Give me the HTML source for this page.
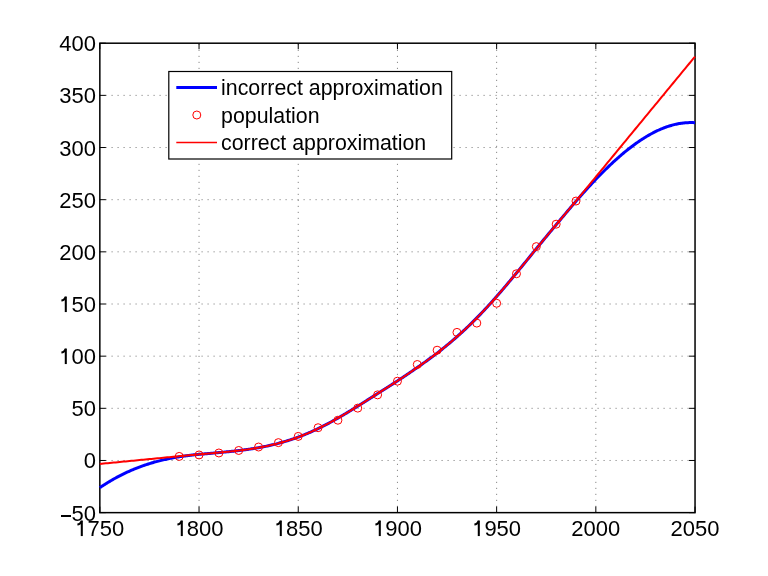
<!DOCTYPE html>
<html><head><meta charset="utf-8"><style>
html,body{margin:0;padding:0;background:#fff;}
#c{position:relative;-webkit-font-smoothing:antialiased;width:768px;height:576px;overflow:hidden;background:#fff;font-family:"Liberation Sans",sans-serif;color:#000;}
svg{position:absolute;left:0;top:0;}
.xl{position:absolute;width:80px;margin-left:-40px;text-align:center;font-size:22px;line-height:22px;transform:scaleY(1.04);transform-origin:50% 10.5px;}
.yl{position:absolute;right:672px;font-size:22px;line-height:22px;white-space:nowrap;transform:scaleY(1.04);transform-origin:50% 10.3px;}
.one{display:inline-block;position:relative;width:12.23px;height:16px;}
.one svg{position:absolute;left:0;top:auto;bottom:0;}
.mn{position:absolute;width:10.6px;height:1.5px;background:#000;}
#t{position:absolute;left:0;top:0;width:768px;height:576px;will-change:transform;}
.lg{position:absolute;left:221.1px;font-size:21.33px;line-height:22px;white-space:nowrap;}
</style></head><body><div id="c">
<svg width="768" height="576" viewBox="0 0 768 576">
<g stroke="#8a8a8a" stroke-width="1" stroke-dasharray="1.2 4.8" fill="none"><line x1="199.04" y1="512.64" x2="199.04" y2="43.20" stroke-dashoffset="0.36"/><line x1="298.24" y1="512.64" x2="298.24" y2="43.20" stroke-dashoffset="0.36"/><line x1="397.44" y1="512.64" x2="397.44" y2="43.20" stroke-dashoffset="0.36"/><line x1="496.64" y1="512.64" x2="496.64" y2="43.20" stroke-dashoffset="0.36"/><line x1="595.84" y1="512.64" x2="595.84" y2="43.20" stroke-dashoffset="0.36"/><line x1="99.84" y1="460.48" x2="695.04" y2="460.48" stroke-dashoffset="0.34"/><line x1="99.84" y1="408.32" x2="695.04" y2="408.32" stroke-dashoffset="0.34"/><line x1="99.84" y1="356.16" x2="695.04" y2="356.16" stroke-dashoffset="0.34"/><line x1="99.84" y1="304.00" x2="695.04" y2="304.00" stroke-dashoffset="0.34"/><line x1="99.84" y1="251.84" x2="695.04" y2="251.84" stroke-dashoffset="0.34"/><line x1="99.84" y1="199.68" x2="695.04" y2="199.68" stroke-dashoffset="0.34"/><line x1="99.84" y1="147.52" x2="695.04" y2="147.52" stroke-dashoffset="0.34"/><line x1="99.84" y1="95.36" x2="695.04" y2="95.36" stroke-dashoffset="0.34"/></g>
<path d="M99.84,512.64V506.64M99.84,43.20V49.20M199.04,512.64V506.64M199.04,43.20V49.20M298.24,512.64V506.64M298.24,43.20V49.20M397.44,512.64V506.64M397.44,43.20V49.20M496.64,512.64V506.64M496.64,43.20V49.20M595.84,512.64V506.64M595.84,43.20V49.20M695.04,512.64V506.64M695.04,43.20V49.20M99.84,512.64H105.84M695.04,512.64H689.04M99.84,460.48H105.84M695.04,460.48H689.04M99.84,408.32H105.84M695.04,408.32H689.04M99.84,356.16H105.84M695.04,356.16H689.04M99.84,304.00H105.84M695.04,304.00H689.04M99.84,251.84H105.84M695.04,251.84H689.04M99.84,199.68H105.84M695.04,199.68H689.04M99.84,147.52H105.84M695.04,147.52H689.04M99.84,95.36H105.84M695.04,95.36H689.04M99.84,43.20H105.84M695.04,43.20H689.04" stroke="#000" stroke-width="1" fill="none"/>
<rect x="99.84" y="43.20" width="595.20" height="469.44" fill="none" stroke="#000" stroke-width="1.5"/>
<path d="M99.84,487.71 L100.83,487.03 L101.82,486.37 L102.82,485.71 L103.81,485.06 L104.80,484.42 L105.79,483.79 L106.78,483.17 L107.78,482.55 L108.77,481.95 L109.76,481.35 L110.75,480.76 L111.74,480.18 L112.74,479.61 L113.73,479.04 L114.72,478.49 L115.71,477.94 L116.70,477.40 L117.70,476.86 L118.69,476.34 L119.68,475.82 L120.67,475.31 L121.66,474.81 L122.66,474.32 L123.65,473.83 L124.64,473.35 L125.63,472.88 L126.62,472.42 L127.62,471.96 L128.61,471.51 L129.60,471.07 L130.59,470.64 L131.58,470.21 L132.58,469.79 L133.57,469.37 L134.56,468.97 L135.55,468.57 L136.54,468.17 L137.54,467.79 L138.53,467.41 L139.52,467.03 L140.51,466.67 L141.50,466.31 L142.50,465.95 L143.49,465.60 L144.48,465.26 L145.47,464.93 L146.46,464.60 L147.46,464.28 L148.45,463.96 L149.44,463.65 L150.43,463.34 L151.42,463.04 L152.42,462.75 L153.41,462.46 L154.40,462.18 L155.39,461.90 L156.38,461.63 L157.38,461.37 L158.37,461.11 L159.36,460.85 L160.35,460.60 L161.34,460.36 L162.34,460.12 L163.33,459.89 L164.32,459.66 L165.31,459.44 L166.30,459.22 L167.30,459.00 L168.29,458.79 L169.28,458.59 L170.27,458.39 L171.26,458.19 L172.26,458.00 L173.25,457.82 L174.24,457.64 L175.23,457.46 L176.22,457.29 L177.22,457.12 L178.21,456.95 L179.20,456.79 L180.19,456.64 L181.18,456.49 L182.18,456.34 L183.17,456.19 L184.16,456.05 L185.15,455.92 L186.14,455.78 L187.14,455.66 L188.13,455.53 L189.12,455.41 L190.11,455.29 L191.10,455.17 L192.10,455.06 L193.09,454.95 L194.08,454.85 L195.07,454.75 L196.06,454.65 L197.06,454.55 L198.05,454.46 L199.04,454.37 L200.03,454.28 L201.02,454.19 L202.02,454.10 L203.01,454.01 L204.00,453.93 L204.99,453.84 L205.98,453.75 L206.98,453.66 L207.97,453.57 L208.96,453.48 L209.95,453.40 L210.94,453.31 L211.94,453.22 L212.93,453.13 L213.92,453.04 L214.91,452.95 L215.90,452.86 L216.90,452.77 L217.89,452.68 L218.88,452.59 L219.87,452.50 L220.86,452.41 L221.86,452.32 L222.85,452.23 L223.84,452.13 L224.83,452.04 L225.82,451.94 L226.82,451.85 L227.81,451.75 L228.80,451.65 L229.79,451.55 L230.78,451.45 L231.78,451.35 L232.77,451.24 L233.76,451.14 L234.75,451.03 L235.74,450.92 L236.74,450.80 L237.73,450.69 L238.72,450.57 L239.71,450.45 L240.70,450.33 L241.70,450.21 L242.69,450.08 L243.68,449.96 L244.67,449.82 L245.66,449.69 L246.66,449.56 L247.65,449.42 L248.64,449.28 L249.63,449.13 L250.62,448.98 L251.62,448.83 L252.61,448.68 L253.60,448.52 L254.59,448.36 L255.58,448.20 L256.58,448.03 L257.57,447.86 L258.56,447.69 L259.55,447.51 L260.54,447.33 L261.54,447.14 L262.53,446.95 L263.52,446.76 L264.51,446.56 L265.50,446.36 L266.50,446.15 L267.49,445.94 L268.48,445.72 L269.47,445.51 L270.46,445.28 L271.46,445.05 L272.45,444.82 L273.44,444.59 L274.43,444.35 L275.42,444.10 L276.42,443.85 L277.41,443.60 L278.40,443.34 L279.39,443.07 L280.38,442.80 L281.38,442.53 L282.37,442.25 L283.36,441.97 L284.35,441.68 L285.34,441.38 L286.34,441.09 L287.33,440.78 L288.32,440.47 L289.31,440.16 L290.30,439.84 L291.30,439.51 L292.29,439.18 L293.28,438.85 L294.27,438.51 L295.26,438.16 L296.26,437.81 L297.25,437.45 L298.24,437.09 L299.23,436.72 L300.22,436.34 L301.22,435.96 L302.21,435.58 L303.20,435.18 L304.19,434.79 L305.18,434.38 L306.18,433.97 L307.17,433.56 L308.16,433.14 L309.15,432.71 L310.14,432.28 L311.14,431.85 L312.13,431.40 L313.12,430.96 L314.11,430.50 L315.10,430.04 L316.10,429.58 L317.09,429.11 L318.08,428.64 L319.07,428.15 L320.06,427.67 L321.06,427.18 L322.05,426.68 L323.04,426.18 L324.03,425.67 L325.02,425.16 L326.02,424.65 L327.01,424.13 L328.00,423.60 L328.99,423.07 L329.98,422.54 L330.98,422.00 L331.97,421.46 L332.96,420.91 L333.95,420.36 L334.94,419.80 L335.94,419.24 L336.93,418.68 L337.92,418.11 L338.91,417.54 L339.90,416.97 L340.90,416.39 L341.89,415.81 L342.88,415.22 L343.87,414.63 L344.86,414.04 L345.86,413.45 L346.85,412.85 L347.84,412.25 L348.83,411.65 L349.82,411.05 L350.82,410.44 L351.81,409.83 L352.80,409.22 L353.79,408.61 L354.78,408.00 L355.78,407.38 L356.77,406.76 L357.76,406.14 L358.75,405.52 L359.74,404.90 L360.74,404.28 L361.73,403.65 L362.72,403.03 L363.71,402.40 L364.70,401.78 L365.70,401.15 L366.69,400.52 L367.68,399.89 L368.67,399.26 L369.66,398.63 L370.66,398.01 L371.65,397.38 L372.64,396.75 L373.63,396.12 L374.62,395.49 L375.62,394.86 L376.61,394.23 L377.60,393.60 L378.59,392.97 L379.58,392.34 L380.58,391.71 L381.57,391.09 L382.56,390.46 L383.55,389.83 L384.54,389.20 L385.54,388.57 L386.53,387.94 L387.52,387.31 L388.51,386.68 L389.50,386.04 L390.50,385.41 L391.49,384.77 L392.48,384.14 L393.47,383.50 L394.46,382.86 L395.46,382.21 L396.45,381.57 L397.44,380.92 L398.43,380.27 L399.42,379.62 L400.42,378.96 L401.41,378.31 L402.40,377.65 L403.39,376.99 L404.38,376.32 L405.38,375.66 L406.37,374.99 L407.36,374.32 L408.35,373.65 L409.34,372.97 L410.34,372.30 L411.33,371.62 L412.32,370.94 L413.31,370.25 L414.30,369.57 L415.30,368.88 L416.29,368.19 L417.28,367.50 L418.27,366.81 L419.26,366.12 L420.26,365.42 L421.25,364.72 L422.24,364.02 L423.23,363.32 L424.22,362.61 L425.22,361.90 L426.21,361.19 L427.20,360.47 L428.19,359.75 L429.18,359.03 L430.18,358.30 L431.17,357.57 L432.16,356.84 L433.15,356.10 L434.14,355.35 L435.14,354.60 L436.13,353.85 L437.12,353.09 L438.11,352.33 L439.10,351.56 L440.10,350.78 L441.09,350.00 L442.08,349.22 L443.07,348.42 L444.06,347.63 L445.06,346.83 L446.05,346.02 L447.04,345.21 L448.03,344.39 L449.02,343.56 L450.02,342.73 L451.01,341.90 L452.00,341.05 L452.99,340.20 L453.98,339.35 L454.98,338.49 L455.97,337.62 L456.96,336.75 L457.95,335.87 L458.94,334.99 L459.94,334.09 L460.93,333.20 L461.92,332.29 L462.91,331.38 L463.90,330.46 L464.90,329.54 L465.89,328.61 L466.88,327.67 L467.87,326.73 L468.86,325.78 L469.86,324.82 L470.85,323.85 L471.84,322.88 L472.83,321.91 L473.82,320.92 L474.82,319.93 L475.81,318.93 L476.80,317.93 L477.79,316.92 L478.78,315.90 L479.78,314.87 L480.77,313.84 L481.76,312.80 L482.75,311.75 L483.74,310.70 L484.74,309.64 L485.73,308.58 L486.72,307.51 L487.71,306.43 L488.70,305.35 L489.70,304.26 L490.69,303.16 L491.68,302.06 L492.67,300.95 L493.66,299.84 L494.66,298.73 L495.65,297.60 L496.64,296.47 L497.63,295.34 L498.62,294.20 L499.62,293.06 L500.61,291.91 L501.60,290.76 L502.59,289.60 L503.58,288.44 L504.58,287.28 L505.57,286.11 L506.56,284.93 L507.55,283.75 L508.54,282.57 L509.54,281.39 L510.53,280.20 L511.52,279.01 L512.51,277.81 L513.50,276.61 L514.50,275.41 L515.49,274.21 L516.48,273.00 L517.47,271.79 L518.46,270.58 L519.46,269.37 L520.45,268.16 L521.44,266.94 L522.43,265.73 L523.42,264.52 L524.42,263.30 L525.41,262.09 L526.40,260.87 L527.39,259.66 L528.38,258.45 L529.38,257.23 L530.37,256.02 L531.36,254.80 L532.35,253.59 L533.34,252.38 L534.34,251.16 L535.33,249.95 L536.32,248.74 L537.31,247.53 L538.30,246.32 L539.30,245.11 L540.29,243.90 L541.28,242.70 L542.27,241.49 L543.26,240.29 L544.26,239.08 L545.25,237.88 L546.24,236.68 L547.23,235.48 L548.22,234.28 L549.22,233.08 L550.21,231.89 L551.20,230.69 L552.19,229.50 L553.18,228.30 L554.18,227.11 L555.17,225.92 L556.16,224.74 L557.15,223.55 L558.14,222.36 L559.14,221.18 L560.13,220.00 L561.12,218.81 L562.11,217.63 L563.10,216.45 L564.10,215.27 L565.09,214.09 L566.08,212.90 L567.07,211.72 L568.06,210.54 L569.06,209.37 L570.05,208.20 L571.04,207.03 L572.03,205.86 L573.02,204.70 L574.02,203.55 L575.01,202.40 L576.00,201.25 L576.99,200.11 L577.98,198.97 L578.98,197.83 L579.97,196.70 L580.96,195.58 L581.95,194.46 L582.94,193.34 L583.94,192.23 L584.93,191.13 L585.92,190.03 L586.91,188.93 L587.90,187.84 L588.90,186.76 L589.89,185.68 L590.88,184.61 L591.87,183.54 L592.86,182.48 L593.86,181.43 L594.85,180.38 L595.84,179.33 L596.83,178.30 L597.82,177.27 L598.82,176.24 L599.81,175.23 L600.80,174.21 L601.79,173.21 L602.78,172.21 L603.78,171.22 L604.77,170.24 L605.76,169.26 L606.75,168.30 L607.74,167.33 L608.74,166.38 L609.73,165.43 L610.72,164.49 L611.71,163.56 L612.70,162.64 L613.70,161.72 L614.69,160.82 L615.68,159.92 L616.67,159.03 L617.66,158.14 L618.66,157.27 L619.65,156.40 L620.64,155.54 L621.63,154.70 L622.62,153.86 L623.62,153.02 L624.61,152.20 L625.60,151.39 L626.59,150.58 L627.58,149.79 L628.58,149.00 L629.57,148.23 L630.56,147.46 L631.55,146.70 L632.54,145.96 L633.54,145.22 L634.53,144.49 L635.52,143.77 L636.51,143.07 L637.50,142.37 L638.50,141.68 L639.49,141.01 L640.48,140.34 L641.47,139.69 L642.46,139.04 L643.46,138.41 L644.45,137.78 L645.44,137.17 L646.43,136.57 L647.42,135.98 L648.42,135.40 L649.41,134.84 L650.40,134.28 L651.39,133.74 L652.38,133.21 L653.38,132.68 L654.37,132.18 L655.36,131.68 L656.35,131.19 L657.34,130.72 L658.34,130.26 L659.33,129.81 L660.32,129.38 L661.31,128.96 L662.30,128.55 L663.30,128.15 L664.29,127.76 L665.28,127.39 L666.27,127.03 L667.26,126.69 L668.26,126.35 L669.25,126.03 L670.24,125.73 L671.23,125.44 L672.22,125.16 L673.22,124.89 L674.21,124.64 L675.20,124.40 L676.19,124.18 L677.18,123.97 L678.18,123.78 L679.17,123.60 L680.16,123.43 L681.15,123.28 L682.14,123.14 L683.14,123.02 L684.13,122.91 L685.12,122.82 L686.11,122.74 L687.10,122.68 L688.10,122.63 L689.09,122.59 L690.08,122.58 L691.07,122.58 L692.06,122.59 L693.06,122.62 L694.05,122.66 L695.04,122.72" stroke="#0000ff" stroke-width="3" fill="none" stroke-linejoin="round"/>
<g stroke="#ff0000" stroke-width="1.0" fill="none"><circle cx="179.20" cy="456.41" r="4.0"/><circle cx="199.04" cy="454.95" r="4.0"/><circle cx="218.88" cy="452.97" r="4.0"/><circle cx="238.72" cy="450.47" r="4.0"/><circle cx="258.56" cy="447.02" r="4.0"/><circle cx="278.40" cy="442.64" r="4.0"/><circle cx="298.24" cy="436.38" r="4.0"/><circle cx="318.08" cy="427.72" r="4.0"/><circle cx="337.92" cy="420.21" r="4.0"/><circle cx="357.76" cy="408.11" r="4.0"/><circle cx="377.60" cy="394.86" r="4.0"/><circle cx="397.44" cy="381.20" r="4.0"/><circle cx="417.28" cy="364.51" r="4.0"/><circle cx="437.12" cy="350.21" r="4.0"/><circle cx="456.96" cy="332.38" r="4.0"/><circle cx="476.80" cy="323.09" r="4.0"/><circle cx="496.64" cy="303.27" r="4.0"/><circle cx="516.48" cy="273.75" r="4.0"/><circle cx="536.32" cy="246.62" r="4.0"/><circle cx="556.16" cy="224.20" r="4.0"/><circle cx="576.00" cy="201.04" r="4.0"/></g>
<path d="M99.84,463.92 L101.82,463.73 L103.81,463.54 L105.79,463.34 L107.78,463.15 L109.76,462.96 L111.74,462.76 L113.73,462.57 L115.71,462.38 L117.70,462.19 L119.68,461.99 L121.66,461.80 L123.65,461.61 L125.63,461.41 L127.62,461.22 L129.60,461.03 L131.58,460.83 L133.57,460.64 L135.55,460.45 L137.54,460.26 L139.52,460.06 L141.50,459.87 L143.49,459.68 L145.47,459.48 L147.46,459.29 L149.44,459.10 L151.42,458.90 L153.41,458.71 L155.39,458.52 L157.38,458.33 L159.36,458.13 L161.34,457.94 L163.33,457.75 L165.31,457.55 L167.30,457.36 L169.28,457.17 L171.26,456.97 L173.25,456.78 L175.23,456.59 L177.22,456.40 L179.20,456.20 L180.19,456.11 L181.18,456.01 L182.18,455.92 L183.17,455.82 L184.16,455.73 L185.15,455.63 L186.14,455.54 L187.14,455.45 L188.13,455.36 L189.12,455.27 L190.11,455.17 L191.10,455.08 L192.10,454.99 L193.09,454.90 L194.08,454.81 L195.07,454.72 L196.06,454.63 L197.06,454.55 L198.05,454.46 L199.04,454.37 L200.03,454.28 L201.02,454.19 L202.02,454.10 L203.01,454.01 L204.00,453.93 L204.99,453.84 L205.98,453.75 L206.98,453.66 L207.97,453.57 L208.96,453.48 L209.95,453.40 L210.94,453.31 L211.94,453.22 L212.93,453.13 L213.92,453.04 L214.91,452.95 L215.90,452.86 L216.90,452.77 L217.89,452.68 L218.88,452.59 L219.87,452.50 L220.86,452.41 L221.86,452.32 L222.85,452.23 L223.84,452.13 L224.83,452.04 L225.82,451.94 L226.82,451.85 L227.81,451.75 L228.80,451.65 L229.79,451.55 L230.78,451.45 L231.78,451.35 L232.77,451.24 L233.76,451.14 L234.75,451.03 L235.74,450.92 L236.74,450.80 L237.73,450.69 L238.72,450.57 L239.71,450.45 L240.70,450.33 L241.70,450.21 L242.69,450.08 L243.68,449.96 L244.67,449.82 L245.66,449.69 L246.66,449.56 L247.65,449.42 L248.64,449.28 L249.63,449.13 L250.62,448.98 L251.62,448.83 L252.61,448.68 L253.60,448.52 L254.59,448.36 L255.58,448.20 L256.58,448.03 L257.57,447.86 L258.56,447.69 L259.55,447.51 L260.54,447.33 L261.54,447.14 L262.53,446.95 L263.52,446.76 L264.51,446.56 L265.50,446.36 L266.50,446.15 L267.49,445.94 L268.48,445.72 L269.47,445.51 L270.46,445.28 L271.46,445.05 L272.45,444.82 L273.44,444.59 L274.43,444.35 L275.42,444.10 L276.42,443.85 L277.41,443.60 L278.40,443.34 L279.39,443.07 L280.38,442.80 L281.38,442.53 L282.37,442.25 L283.36,441.97 L284.35,441.68 L285.34,441.38 L286.34,441.09 L287.33,440.78 L288.32,440.47 L289.31,440.16 L290.30,439.84 L291.30,439.51 L292.29,439.18 L293.28,438.85 L294.27,438.51 L295.26,438.16 L296.26,437.81 L297.25,437.45 L298.24,437.09 L299.23,436.72 L300.22,436.34 L301.22,435.96 L302.21,435.58 L303.20,435.18 L304.19,434.79 L305.18,434.38 L306.18,433.97 L307.17,433.56 L308.16,433.14 L309.15,432.71 L310.14,432.28 L311.14,431.85 L312.13,431.40 L313.12,430.96 L314.11,430.50 L315.10,430.04 L316.10,429.58 L317.09,429.11 L318.08,428.64 L319.07,428.15 L320.06,427.67 L321.06,427.18 L322.05,426.68 L323.04,426.18 L324.03,425.67 L325.02,425.16 L326.02,424.65 L327.01,424.13 L328.00,423.60 L328.99,423.07 L329.98,422.54 L330.98,422.00 L331.97,421.46 L332.96,420.91 L333.95,420.36 L334.94,419.80 L335.94,419.24 L336.93,418.68 L337.92,418.11 L338.91,417.54 L339.90,416.97 L340.90,416.39 L341.89,415.81 L342.88,415.22 L343.87,414.63 L344.86,414.04 L345.86,413.45 L346.85,412.85 L347.84,412.25 L348.83,411.65 L349.82,411.05 L350.82,410.44 L351.81,409.83 L352.80,409.22 L353.79,408.61 L354.78,408.00 L355.78,407.38 L356.77,406.76 L357.76,406.14 L358.75,405.52 L359.74,404.90 L360.74,404.28 L361.73,403.65 L362.72,403.03 L363.71,402.40 L364.70,401.78 L365.70,401.15 L366.69,400.52 L367.68,399.89 L368.67,399.26 L369.66,398.63 L370.66,398.01 L371.65,397.38 L372.64,396.75 L373.63,396.12 L374.62,395.49 L375.62,394.86 L376.61,394.23 L377.60,393.60 L378.59,392.97 L379.58,392.34 L380.58,391.71 L381.57,391.09 L382.56,390.46 L383.55,389.83 L384.54,389.20 L385.54,388.57 L386.53,387.94 L387.52,387.31 L388.51,386.68 L389.50,386.04 L390.50,385.41 L391.49,384.77 L392.48,384.14 L393.47,383.50 L394.46,382.86 L395.46,382.21 L396.45,381.57 L397.44,380.92 L398.43,380.27 L399.42,379.62 L400.42,378.96 L401.41,378.31 L402.40,377.65 L403.39,376.99 L404.38,376.32 L405.38,375.66 L406.37,374.99 L407.36,374.32 L408.35,373.65 L409.34,372.97 L410.34,372.30 L411.33,371.62 L412.32,370.94 L413.31,370.25 L414.30,369.57 L415.30,368.88 L416.29,368.19 L417.28,367.50 L418.27,366.81 L419.26,366.12 L420.26,365.42 L421.25,364.72 L422.24,364.02 L423.23,363.32 L424.22,362.61 L425.22,361.90 L426.21,361.19 L427.20,360.47 L428.19,359.75 L429.18,359.03 L430.18,358.30 L431.17,357.57 L432.16,356.84 L433.15,356.10 L434.14,355.35 L435.14,354.60 L436.13,353.85 L437.12,353.09 L438.11,352.33 L439.10,351.56 L440.10,350.78 L441.09,350.00 L442.08,349.22 L443.07,348.42 L444.06,347.63 L445.06,346.83 L446.05,346.02 L447.04,345.21 L448.03,344.39 L449.02,343.56 L450.02,342.73 L451.01,341.90 L452.00,341.05 L452.99,340.20 L453.98,339.35 L454.98,338.49 L455.97,337.62 L456.96,336.75 L457.95,335.87 L458.94,334.99 L459.94,334.09 L460.93,333.20 L461.92,332.29 L462.91,331.38 L463.90,330.46 L464.90,329.54 L465.89,328.61 L466.88,327.67 L467.87,326.73 L468.86,325.78 L469.86,324.82 L470.85,323.85 L471.84,322.88 L472.83,321.91 L473.82,320.92 L474.82,319.93 L475.81,318.93 L476.80,317.93 L477.79,316.92 L478.78,315.90 L479.78,314.87 L480.77,313.84 L481.76,312.80 L482.75,311.75 L483.74,310.70 L484.74,309.64 L485.73,308.58 L486.72,307.51 L487.71,306.43 L488.70,305.35 L489.70,304.26 L490.69,303.16 L491.68,302.06 L492.67,300.95 L493.66,299.84 L494.66,298.73 L495.65,297.60 L496.64,296.47 L497.63,295.34 L498.62,294.20 L499.62,293.06 L500.61,291.91 L501.60,290.76 L502.59,289.60 L503.58,288.44 L504.58,287.28 L505.57,286.11 L506.56,284.93 L507.55,283.75 L508.54,282.57 L509.54,281.39 L510.53,280.20 L511.52,279.01 L512.51,277.81 L513.50,276.61 L514.50,275.41 L515.49,274.21 L516.48,273.00 L517.47,271.79 L518.46,270.58 L519.46,269.37 L520.45,268.16 L521.44,266.94 L522.43,265.73 L523.42,264.52 L524.42,263.30 L525.41,262.09 L526.40,260.87 L527.39,259.66 L528.38,258.45 L529.38,257.23 L530.37,256.02 L531.36,254.80 L532.35,253.59 L533.34,252.38 L534.34,251.16 L535.33,249.95 L536.32,248.74 L537.31,247.53 L538.30,246.32 L539.30,245.11 L540.29,243.90 L541.28,242.70 L542.27,241.49 L543.26,240.29 L544.26,239.08 L545.25,237.88 L546.24,236.68 L547.23,235.48 L548.22,234.28 L549.22,233.08 L550.21,231.89 L551.20,230.69 L552.19,229.50 L553.18,228.30 L554.18,227.11 L555.17,225.92 L556.16,224.74 L557.15,223.55 L558.14,222.36 L559.14,221.18 L560.13,220.00 L561.12,218.81 L562.11,217.63 L563.10,216.45 L564.10,215.27 L565.09,214.09 L566.08,212.90 L567.07,211.72 L568.06,210.53 L569.06,209.35 L570.05,208.16 L571.04,206.97 L572.03,205.78 L573.02,204.58 L574.02,203.39 L575.01,202.19 L576.00,200.98 L577.98,198.58 L579.97,196.17 L581.95,193.76 L583.94,191.35 L585.92,188.95 L587.90,186.54 L589.89,184.13 L591.87,181.72 L593.86,179.31 L595.84,176.91 L597.82,174.50 L599.81,172.09 L601.79,169.68 L603.78,167.28 L605.76,164.87 L607.74,162.46 L609.73,160.05 L611.71,157.65 L613.70,155.24 L615.68,152.83 L617.66,150.42 L619.65,148.01 L621.63,145.61 L623.62,143.20 L625.60,140.79 L627.58,138.38 L629.57,135.98 L631.55,133.57 L633.54,131.16 L635.52,128.75 L637.50,126.35 L639.49,123.94 L641.47,121.53 L643.46,119.12 L645.44,116.71 L647.42,114.31 L649.41,111.90 L651.39,109.49 L653.38,107.08 L655.36,104.68 L657.34,102.27 L659.33,99.86 L661.31,97.45 L663.30,95.04 L665.28,92.64 L667.26,90.23 L669.25,87.82 L671.23,85.41 L673.22,83.01 L675.20,80.60 L677.18,78.19 L679.17,75.78 L681.15,73.38 L683.14,70.97 L685.12,68.56 L687.10,66.15 L689.09,63.74 L691.07,61.34 L693.06,58.93 L695.04,56.52" stroke="#ff0000" stroke-width="2.0" fill="none" stroke-linejoin="round"/>
<rect x="168.8" y="71.5" width="282.9" height="87.5" fill="#fff" stroke="#000" stroke-width="1.2"/>
<line x1="176.3" y1="87.4" x2="217" y2="87.4" stroke="#0000ff" stroke-width="3"/>
<circle cx="196.8" cy="115" r="4.0" stroke="#ff0000" stroke-width="1.0" fill="none"/>
<line x1="176.3" y1="142.5" x2="217" y2="142.5" stroke="#ff0000" stroke-width="1.6"/>
</svg>
<div id="t"><div class="xl" style="left:99.84px;top:517.90px"><span class="one"><svg style="bottom:0.25px" width="13" height="17" viewBox="0 -17 13 17"><path d="M6.80,0V-15.10" stroke="#000" stroke-width="2.05" fill="none"/><path d="M6.80,-14.70 C5.70,-12.50 4.40,-11.50 2.40,-11.40" stroke="#000" stroke-width="1.9" fill="none"/></svg></span>750</div><div class="xl" style="left:199.04px;top:517.90px"><span class="one"><svg style="bottom:0.25px" width="13" height="17" viewBox="0 -17 13 17"><path d="M6.80,0V-15.10" stroke="#000" stroke-width="2.05" fill="none"/><path d="M6.80,-14.70 C5.70,-12.50 4.40,-11.50 2.40,-11.40" stroke="#000" stroke-width="1.9" fill="none"/></svg></span>800</div><div class="xl" style="left:298.24px;top:517.90px"><span class="one"><svg style="bottom:0.25px" width="13" height="17" viewBox="0 -17 13 17"><path d="M6.80,0V-15.10" stroke="#000" stroke-width="2.05" fill="none"/><path d="M6.80,-14.70 C5.70,-12.50 4.40,-11.50 2.40,-11.40" stroke="#000" stroke-width="1.9" fill="none"/></svg></span>850</div><div class="xl" style="left:397.44px;top:517.90px"><span class="one"><svg style="bottom:0.25px" width="13" height="17" viewBox="0 -17 13 17"><path d="M6.80,0V-15.10" stroke="#000" stroke-width="2.05" fill="none"/><path d="M6.80,-14.70 C5.70,-12.50 4.40,-11.50 2.40,-11.40" stroke="#000" stroke-width="1.9" fill="none"/></svg></span>900</div><div class="xl" style="left:496.64px;top:517.90px"><span class="one"><svg style="bottom:0.25px" width="13" height="17" viewBox="0 -17 13 17"><path d="M6.80,0V-15.10" stroke="#000" stroke-width="2.05" fill="none"/><path d="M6.80,-14.70 C5.70,-12.50 4.40,-11.50 2.40,-11.40" stroke="#000" stroke-width="1.9" fill="none"/></svg></span>950</div><div class="xl" style="left:595.84px;top:517.90px">2000</div><div class="xl" style="left:695.04px;top:517.90px">2050</div>
<div class="yl" style="top:502.64px">50</div><div class="yl" style="top:450.48px">0</div><div class="yl" style="top:398.32px">50</div><div class="yl" style="top:346.16px"><span class="one"><svg style="bottom:0.25px" width="13" height="17" viewBox="0 -17 13 17"><path d="M6.80,0V-15.10" stroke="#000" stroke-width="2.05" fill="none"/><path d="M6.80,-14.70 C5.70,-12.50 4.40,-11.50 2.40,-11.40" stroke="#000" stroke-width="1.9" fill="none"/></svg></span>00</div><div class="yl" style="top:294.00px"><span class="one"><svg style="bottom:0.25px" width="13" height="17" viewBox="0 -17 13 17"><path d="M6.80,0V-15.10" stroke="#000" stroke-width="2.05" fill="none"/><path d="M6.80,-14.70 C5.70,-12.50 4.40,-11.50 2.40,-11.40" stroke="#000" stroke-width="1.9" fill="none"/></svg></span>50</div><div class="yl" style="top:241.84px">200</div><div class="yl" style="top:189.68px">250</div><div class="yl" style="top:137.52px">300</div><div class="yl" style="top:85.36px">350</div><div class="yl" style="top:33.20px">400</div><div class="mn" style="left:60.9px;top:515.29px;"></div>
<div class="lg" style="top:77px">incorrect approximation</div>
<div class="lg" style="top:105.3px">population</div>
<div class="lg" style="top:131.9px">correct approximation</div>
</div></div></body></html>
